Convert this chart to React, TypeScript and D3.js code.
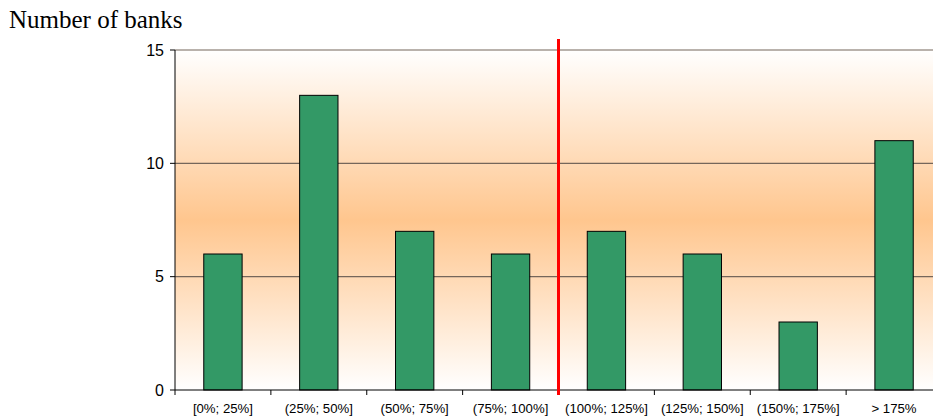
import React from "react";
import * as d3 from "d3";

const categories = [
  "[0%; 25%]",
  "(25%; 50%]",
  "(50%; 75%]",
  "(75%; 100%]",
  "(100%; 125%]",
  "(125%; 150%]",
  "(150%; 175%]",
  "> 175%",
];
const banks = [6, 13, 7, 6, 7, 6, 3, 11];
const yTicks = [0, 5, 10, 15];
const thresholdAfter = 4; // red marker sits between the 100% and 125% buckets

const W = 933;
const H = 419;
const left = 175;
const right = 942;
const top = 50;
const bottom = 390;

export default function App() {
  const x = d3.scaleBand<string>().domain(categories).range([left, right]).paddingInner(0).paddingOuter(0);
  const y = d3.scaleLinear().domain([0, 15]).range([bottom, top]);
  const bw = x.bandwidth() * 0.4;
  const redX = left + x.step() * thresholdAfter;

  return (
    <svg width={W} height={H} style={{ position: "absolute", left: 0, top: 0 }}>
      <defs>
        <linearGradient id="bg" x1="0" y1="0" x2="0" y2="1">
          <stop offset="0" stopColor="#ffffff" />
          <stop offset="0.5" stopColor="#ffc68e" />
          <stop offset="1" stopColor="#ffffff" />
        </linearGradient>
      </defs>
      <text x={9} y={28} fontFamily="Liberation Serif, Times New Roman, serif" fontSize={25} fill="#000">
        Number of banks
      </text>
      <rect x={left} y={top} width={right - left} height={bottom - top} fill="url(#bg)" />
      {yTicks.filter((t) => t > 0).map((t) => (
        <line key={t} x1={left} x2={right} y1={y(t)} y2={y(t)} stroke="#75665a" strokeWidth={1.2} />
      ))}
      {yTicks.map((t) => (
        <g key={"yt" + t}>
          <line x1={left - 5} x2={left} y1={y(t)} y2={y(t)} stroke="#000" />
          <text x={164} y={y(t)} dy="0.36em" textAnchor="end" fontFamily="Liberation Sans, Arial, sans-serif" fontSize={16}>
            {t}
          </text>
        </g>
      ))}
      {categories.map((c, i) => (
        <rect
          key={c}
          x={(x(c) as number) + (x.bandwidth() - bw) / 2}
          y={y(banks[i])}
          width={bw}
          height={bottom - y(banks[i])}
          fill="#339966"
          stroke="#000"
          strokeWidth={1}
        />
      ))}
      <line x1={left} x2={left} y1={top} y2={bottom} stroke="#000" />
      <line x1={left} x2={right} y1={bottom} y2={bottom} stroke="#000" />
      {categories.map((c, i) => (
        <line key={"xt" + i} x1={(x(c) as number)} x2={(x(c) as number)} y1={bottom} y2={bottom + 5} stroke="#000" />
      ))}
      {categories.map((c) => (
        <text
          key={"xl" + c}
          x={(x(c) as number) + x.bandwidth() / 2}
          y={413}
          textAnchor="middle"
          fontFamily="Liberation Sans, Arial, sans-serif"
          fontSize={13.2}
        >
          {c}
        </text>
      ))}
      <line x1={redX} x2={redX} y1={39} y2={bottom + 5} stroke="#ff0000" strokeWidth={3} />
    </svg>
  );
}
